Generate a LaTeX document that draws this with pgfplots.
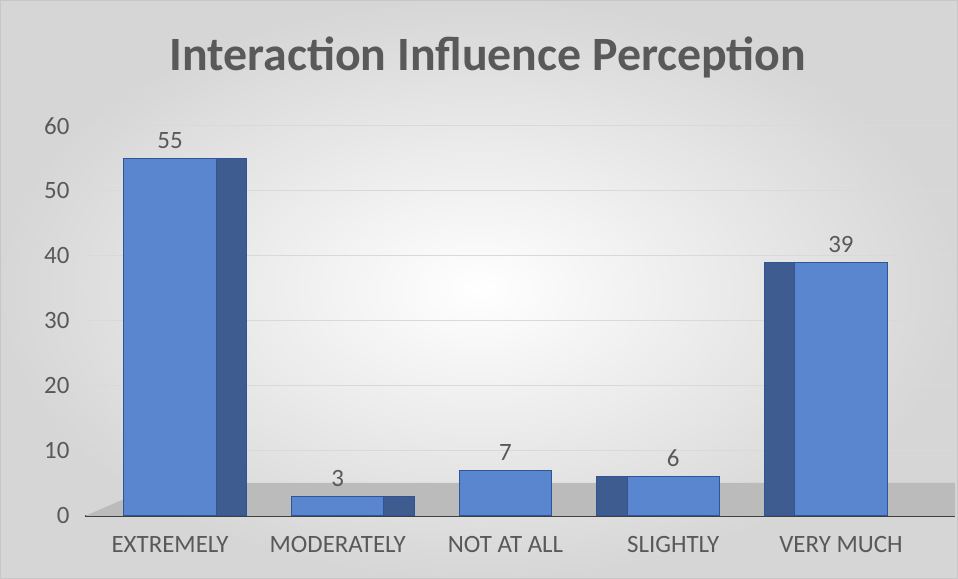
\documentclass[border=0pt]{standalone}
\usepackage{pgfplots}
\pgfplotsset{compat=1.18}
\usepackage{fontspec}
\setmainfont{Carlito}
\definecolor{barfront}{HTML}{5A86D0}
\definecolor{barside}{HTML}{3E5C8F}
\definecolor{baredge}{HTML}{2F5597}
\definecolor{txt}{HTML}{595959}
\definecolor{floorc}{HTML}{BBBBBB}
\begin{document}
\begin{tikzpicture}[x=1bp,y=1bp]
\shade[inner color=white, outer color=black!16] (0,0) rectangle (958,579);
\draw[black!22, line width=0.8bp] (0.5,0.5) rectangle (957.5,578.5);
\useasboundingbox (0,0) rectangle (958,579);
\node[txt, font=\bfseries\fontsize{48}{56}\selectfont] at (488, 522) {Interaction Influence Perception};
\begin{axis}[
  at={(85bp,63bp)},
  scale only axis,
  width=870bp, height=390bp,
  anchor=south west,
  xmin=-0.507, xmax=4.68,
  ymin=0, ymax=60,
  ytick={0,10,20,30,40,50,60},
  xtick={0,1,2,3,4},
  xticklabels={EXTREMELY, MODERATELY, NOT AT ALL, SLIGHTLY, VERY MUCH},
  ymajorgrids,
  grid style={black!15, line width=1bp},
  axis x line*=bottom,
  axis y line*=left,
  y axis line style={draw=none},
  x axis line style={draw=black!75, line width=2.5bp},
  major tick length=0pt,
  tick label style={txt, font=\fontsize{25}{29}\selectfont},
  yticklabel style={xshift=-12bp},
  xticklabel style={yshift=-17bp},
  /pgf/number format/assume math mode=true,
  clip=false,
]
\addplot[fill=floorc, draw=none, forget plot] coordinates {(-0.507,0) (4.68,0) (4.68,5.1) (-0.05,5.1)} -- cycle;
\addplot[ybar, bar width=0.18, bar shift=0.365, fill=barside, draw=baredge, line width=1bp] coordinates {(0,55) (1,3)};
\addplot[ybar, bar width=0.18, bar shift=-0.365, fill=barside, draw=baredge, line width=1bp] coordinates {(3,6) (4,39)};
\addplot[ybar, bar width=0.55, bar shift=0, fill=barfront, draw=baredge, line width=1bp,
  nodes near coords, every node near coord/.append style={txt, font=\fontsize{25}{29}\selectfont, yshift=6bp},
  /pgf/number format/assume math mode=true]
  coordinates {(0,55) (1,3) (2,7) (3,6) (4,39)};
\end{axis}
\end{tikzpicture}
\end{document}
